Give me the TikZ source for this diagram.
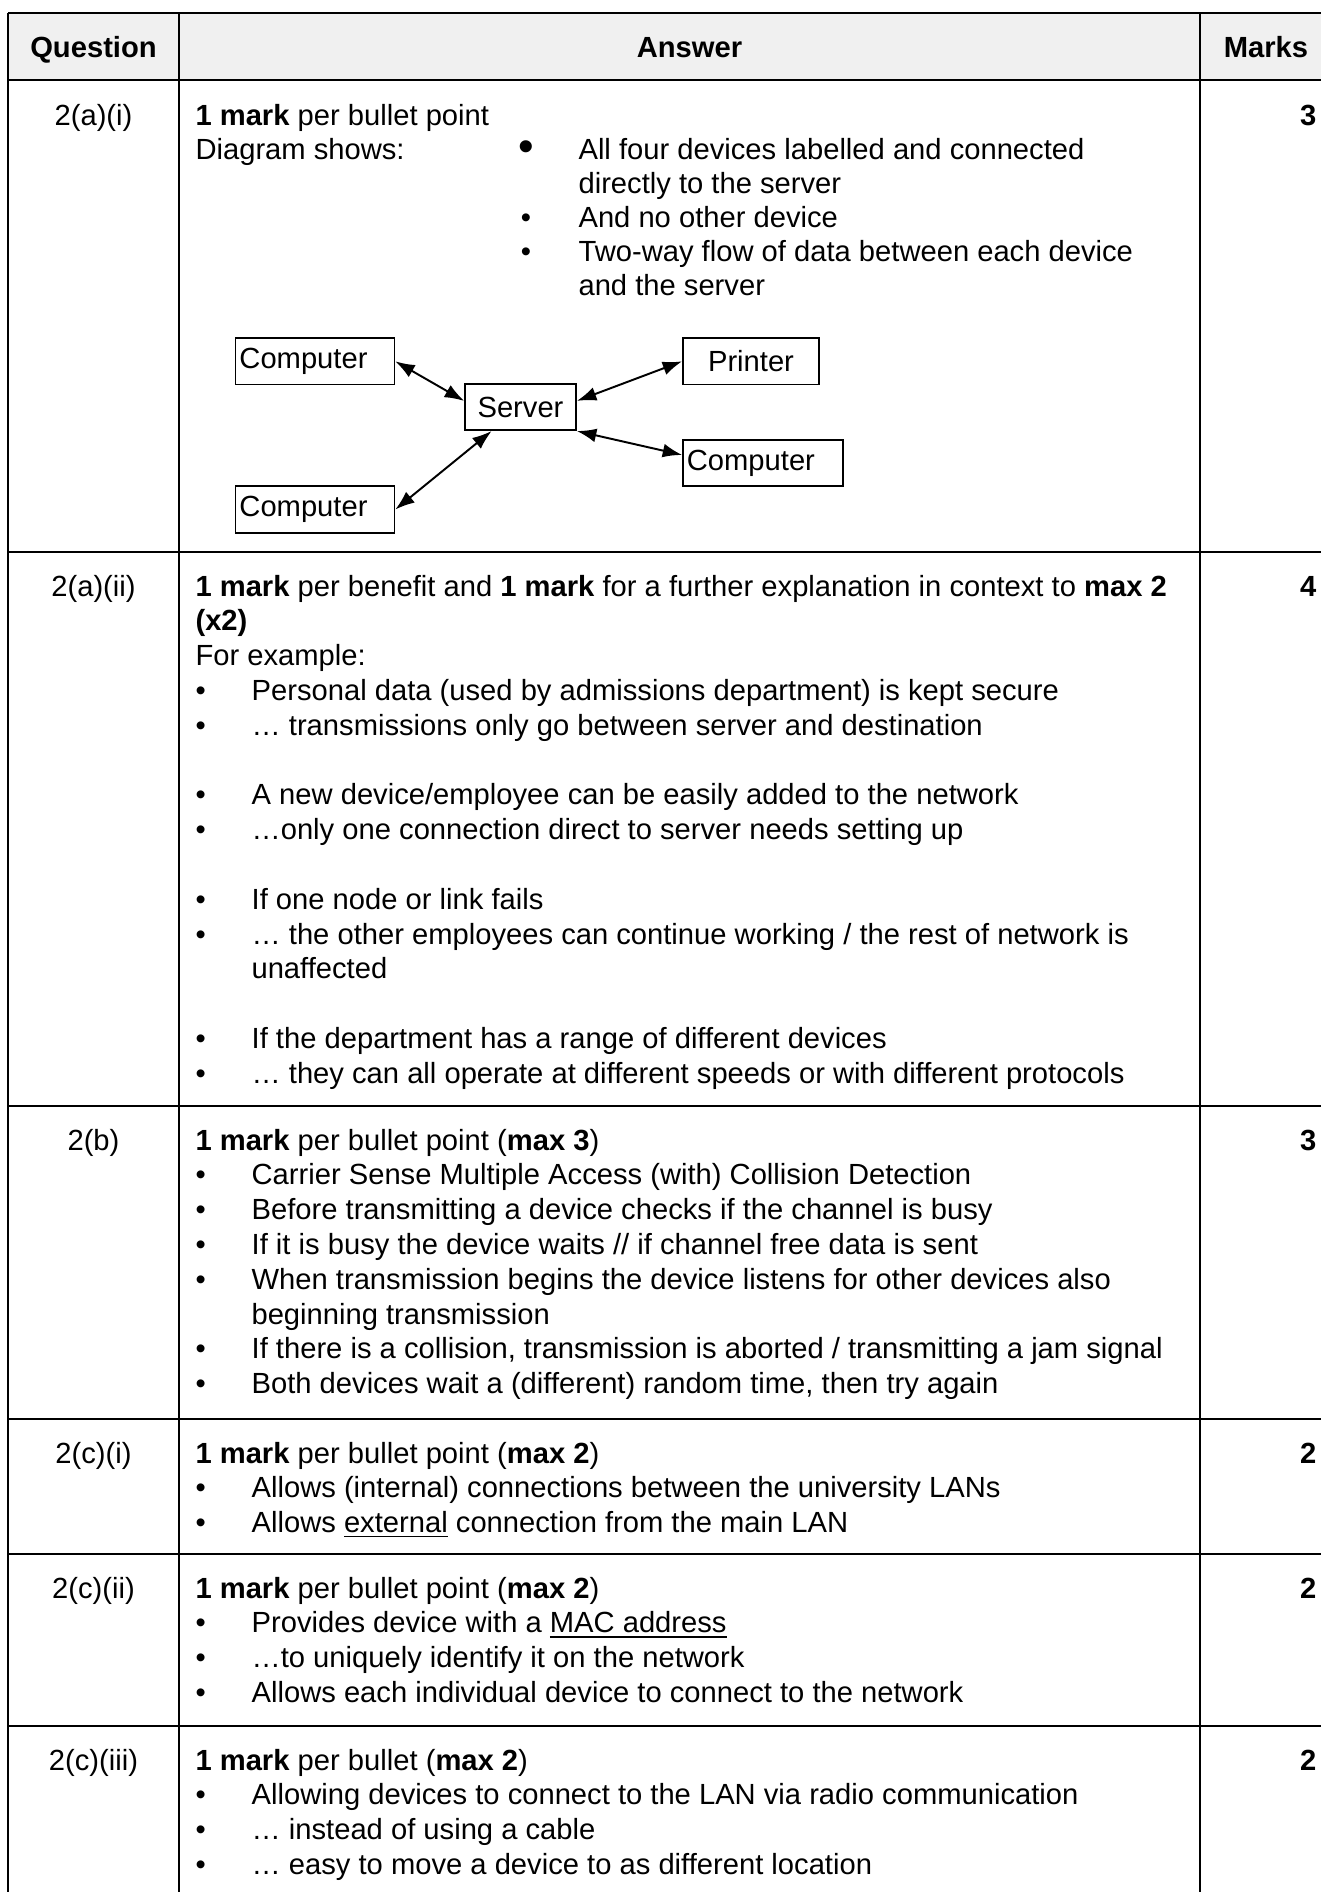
\documentclass[tikz,border=0pt]{standalone}
\usepackage{fontspec}
\setmainfont{Liberation Sans}
\usepackage{tikz}
\usetikzlibrary{arrows.meta}

\definecolor{hdgray}{HTML}{F0F0F0}
\newcommand{\bul}{\makebox[20.2pt][l]{•}}

\begin{document}
\begin{tikzpicture}[x=0.36pt,y=-0.36pt,
  every node/.style={inner sep=0pt,font=\fontsize{10.5}{12.6}\selectfont},
  txt/.style={anchor=base west},
  qno/.style={anchor=base},
  mk/.style={anchor=base east,font=\fontsize{10.5}{12.6}\selectfont\bfseries},
  hd/.style={anchor=base,font=\fontsize{10.5}{12.6}\selectfont\bfseries},
  dot/.style={anchor=base},
  grid/.style={line width=0.75pt},
  devbox/.style={draw,line width=0.6pt,inner xsep=1.4pt,inner ysep=0pt,minimum height=16.7pt},
  link/.style={{Latex[length=7pt,width=5pt]}-{Latex[length=7pt,width=5pt]},line width=0.7pt}]
  \useasboundingbox (0,0) rectangle (1321,1892);

  % Header band
  \fill[hdgray] (8,13) rectangle (1332,80);
  % Table rules
  \draw[grid] (8,13) -- (1332,13);
  \draw[grid] (8,80) -- (1332,80);
  \draw[grid] (8,552) -- (1332,552);
  \draw[grid] (8,1106) -- (1332,1106);
  \draw[grid] (8,1419) -- (1332,1419);
  \draw[grid] (8,1554) -- (1332,1554);
  \draw[grid] (8,1726) -- (1332,1726);
  \draw[grid] (8,13) -- (8,1900);
  \draw[grid] (179,13) -- (179,1900);
  \draw[grid] (1200,13) -- (1200,1900);
  \draw[grid] (1332,13) -- (1332,1900);

  % Header
  \node[hd] (hq) at (93.5,57) {Question};
  \node[hd] (ha) at (689.5,57) {Answer};
  \node[hd] (hm) at (1266,57) {Marks};

  % 2(a)(i)
  \node[qno] (q1) at (93.5,125) {2(a)(i)};
  \node[mk] (m1) at (1317,125) {3};
  \node[txt] (a1l1) at (195,125) {\textbf{1 mark} per bullet point};
  \node[txt] (a1l2) at (195,159) {Diagram shows:};
  \node[dot,font=\fontsize{16}{16}\selectfont] (a1d1) at (526,161) {•};
  \node[txt] (a1l3) at (578,159) {All four devices labelled and connected};
  \node[txt] (a1l4) at (578,193) {directly to the server};
  \node[dot] (a1d2) at (526,227) {•};
  \node[txt] (a1l5) at (578,227) {And no other device};
  \node[dot] (a1d3) at (526,261) {•};
  \node[txt] (a1l6) at (578,261) {Two-way flow of data between each device};
  \node[txt] (a1l7) at (578,295) {and the server};

  % Star network
  \node[devbox,text width=54.4pt,align=left] (pcA) at (315,361.3) {Computer};
  \node[devbox,text width=46.2pt,align=center] (prn) at (751,361.3) {Printer};
  \node[devbox,text width=37.2pt,align=center] (srv) at (520.5,407) {Server};
  \node[devbox,text width=54.8pt,align=left] (pcB) at (763,463) {Computer};
  \node[devbox,text width=54.4pt,align=left] (pcC) at (315,509.5) {Computer};
  \draw[link] (pcA.east) -- ([yshift=2.2pt]srv.west);
  \draw[link] ([yshift=2.2pt]srv.east) -- (prn.west);
  \draw[link] (srv.south east) -- ([yshift=2.9pt]pcB.west);
  \draw[link] (pcC.east) -- ([xshift=-10.4pt]srv.south);

  % 2(a)(ii)
  \node[qno] (q2) at (93.5,596) {2(a)(ii)};
  \node[mk] (m2) at (1317,596) {4};
  \node[txt] (a2l1) at (195,596) {\textbf{1 mark} per benefit and \textbf{1 mark} for a further explanation in context to \textbf{max 2}};
  \node[txt] (a2l2) at (195,630.8) {\textbf{(x2)}};
  \node[txt] (a2l3) at (195,665.6) {For example:};
  \node[txt] (a2l4) at (195,700.4) {\bul Personal data (used by admissions department) is kept secure};
  \node[txt] (a2l5) at (195,735.2) {\bul … transmissions only go between server and destination};
  \node[txt] (a2l6) at (195,804.8) {\bul A new device/employee can be easily added to the network};
  \node[txt] (a2l7) at (195,839.6) {\bul …only one connection direct to server needs setting up};
  \node[txt] (a2l8) at (195,909.2) {\bul If one node or link fails};
  \node[txt] (a2l9) at (195,944) {\bul … the other employees can continue working / the rest of network is};
  \node[txt] (a2l10) at (251,978.8) {unaffected};
  \node[txt] (a2l11) at (195,1048.4) {\bul If the department has a range of different devices};
  \node[txt] (a2l12) at (195,1083.2) {\bul … they can all operate at different speeds or with different protocols};

  % 2(b)
  \node[qno] (q3) at (93.5,1150) {2(b)};
  \node[mk] (m3) at (1317,1150) {3};
  \node[txt] (a3l1) at (195,1150) {\textbf{1 mark} per bullet point (\textbf{max 3})};
  \node[txt] (a3l2) at (195,1184.8) {\bul Carrier Sense Multiple Access (with) Collision Detection};
  \node[txt] (a3l3) at (195,1219.6) {\bul Before transmitting a device checks if the channel is busy};
  \node[txt] (a3l4) at (195,1254.4) {\bul If it is busy the device waits // if channel free data is sent};
  \node[txt] (a3l5) at (195,1289.2) {\bul When transmission begins the device listens for other devices also};
  \node[txt] (a3l6) at (251,1324) {beginning transmission};
  \node[txt] (a3l7) at (195,1358.8) {\bul If there is a collision, transmission is aborted / transmitting a jam signal};
  \node[txt] (a3l8) at (195,1393.6) {\bul Both devices wait a (different) random time, then try again};

  % 2(c)(i)
  \node[qno] (q4) at (93.5,1463) {2(c)(i)};
  \node[mk] (m4) at (1317,1463) {2};
  \node[txt] (a4l1) at (195,1463) {\textbf{1 mark} per bullet point (\textbf{max 2})};
  \node[txt] (a4l2) at (195,1497.8) {\bul Allows (internal) connections between the university LANs};
  \node[txt] (a4l3) at (195,1532.6) {\bul Allows \underline{external} connection from the main LAN};

  % 2(c)(ii)
  \node[qno] (q5) at (93.5,1598) {2(c)(ii)};
  \node[mk] (m5) at (1317,1598) {2};
  \node[txt] (a5l1) at (195,1598) {\textbf{1 mark} per bullet point (\textbf{max 2})};
  \node[txt] (a5l2) at (195,1632.8) {\bul Provides device with a \underline{MAC address}};
  \node[txt] (a5l3) at (195,1667.6) {\bul …to uniquely identify it on the network};
  \node[txt] (a5l4) at (195,1702.4) {\bul Allows each individual device to connect to the network};

  % 2(c)(iii)
  \node[qno] (q6) at (93.5,1770) {2(c)(iii)};
  \node[mk] (m6) at (1317,1770) {2};
  \node[txt] (a6l1) at (195,1770) {\textbf{1 mark} per bullet (\textbf{max 2})};
  \node[txt] (a6l2) at (195,1804.8) {\bul Allowing devices to connect to the LAN via radio communication};
  \node[txt] (a6l3) at (195,1839.6) {\bul … instead of using a cable};
  \node[txt] (a6l4) at (195,1874.4) {\bul … easy to move a device to as different location};
\end{tikzpicture}
\end{document}
